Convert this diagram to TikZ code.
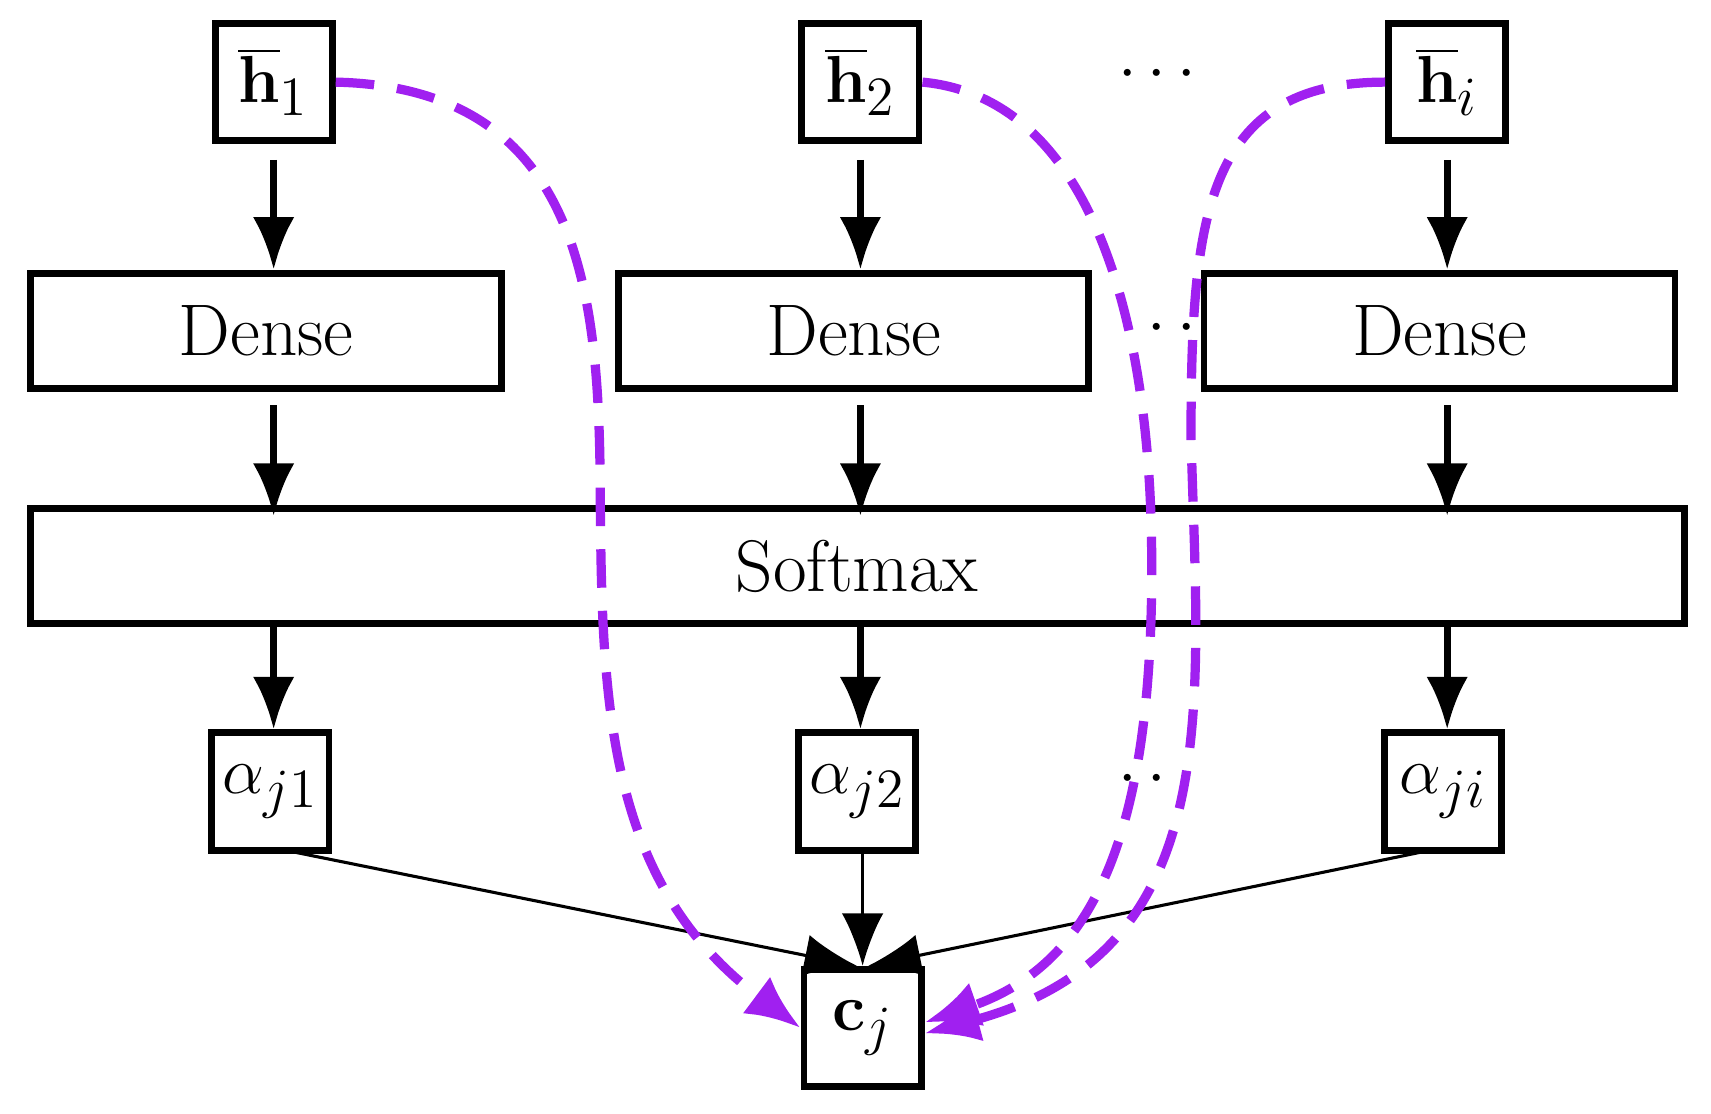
\documentclass[tikz,border=0pt]{standalone}
\usetikzlibrary{arrows.meta}
\definecolor{pur}{RGB}{160,32,240}
\begin{document}
\fontsize{19}{23}\selectfont
\begin{tikzpicture}[x=0.01cm,y=-0.01cm,
  box/.style={draw,line width=1.8pt,minimum width=1.07cm,minimum height=1.07cm,inner sep=0pt},
  wide/.style={draw,line width=1.8pt,minimum height=1.05cm,inner sep=0pt},
  arr/.style={line width=1.8pt,-{Latex[length=0.48cm,width=0.38cm]}},
  thin/.style={line width=0.8pt,-{Latex[length=0.48cm,width=0.38cm]}},
  dsh/.style={pur,line width=2.4pt,dash pattern=on 10pt off 6pt,-{Latex[length=0.5cm,width=0.42cm]}}]
\useasboundingbox (0,0) rectangle (1563,1017);
\node[box] (h1) at (250,75) {$\overline{\mathbf{h}}_1$};
\node[box] (h2) at (786,75) {$\overline{\mathbf{h}}_2$};
\node[box] (hi) at (1322,75) {$\overline{\mathbf{h}}_i$};
\node (d0) at (1057,68) {$\cdots$};
\node[wide,minimum width=4.3cm] (D1) at (243,302) {Dense};
\node[wide,minimum width=4.29cm] (D2) at (780,302) {Dense};
\node[wide,minimum width=4.3cm] (D3) at (1315,302) {Dense};
\node (d1) at (1057,300) {$\cdots$};
\node[wide,minimum width=15.1cm] (S) at (783,517) {Softmax};
\node[box] (a1) at (247,723) {$\alpha_{j1}$};
\node[box] (a2) at (783,723) {$\alpha_{j2}$};
\node[box] (ai) at (1318,723) {$\alpha_{ji}$};
\node (d2) at (1057,712) {$\cdots$};
\node[box] (c) at (788,939) {$\mathbf{c}_j$};
\coordinate (h1b) at (250,146); \coordinate (h2b) at (786,146); \coordinate (hib) at (1322,146);
\draw[arr] (h1b) -- (h1b |- D1.north);
\draw[arr] (h2b) -- (h2b |- D2.north);
\draw[arr] (hib) -- (hib |- D3.north);
\coordinate (e1) at (250,370); \coordinate (e2) at (786,370); \coordinate (e3) at (1322,370);
\draw[arr] (e1) -- ([yshift=-0.1cm]e1 |- S.north);
\draw[arr] (e2) -- ([yshift=-0.1cm]e2 |- S.north);
\draw[arr] (e3) -- ([yshift=-0.1cm]e3 |- S.north);
\draw[arr] (e1 |- S.south) -- (e1 |- a1.north);
\draw[arr] (e2 |- S.south) -- (e2 |- a2.north);
\draw[arr] (e3 |- S.south) -- (e3 |- ai.north);
\coordinate (a1b) at (262,777); \coordinate (aib) at (1305,777);
\draw[thin] (a1b) -- ([xshift=-0.05cm]c.north);
\draw[thin] (a2.south -| c.north) -- (c.north);
\draw[thin] (aib) -- ([xshift=0.05cm]c.north);
\draw[dsh] (h1.east) .. controls (520,80) and (545,250) .. (548,420)
  .. controls (550,620) and (545,800) .. (c.west);
\draw[dsh] (h2.east) .. controls (1000,90) and (1050,300) .. (1052,500)
  .. controls (1055,760) and (1000,880) .. ([yshift=0.05cm]c.east);
\draw[dsh] (hi.west) .. controls (1100,75) and (1088,200) .. (1088,400)
  .. controls (1095,650) and (1120,870) .. ([yshift=-0.05cm]c.east);
\end{tikzpicture}
\end{document}
